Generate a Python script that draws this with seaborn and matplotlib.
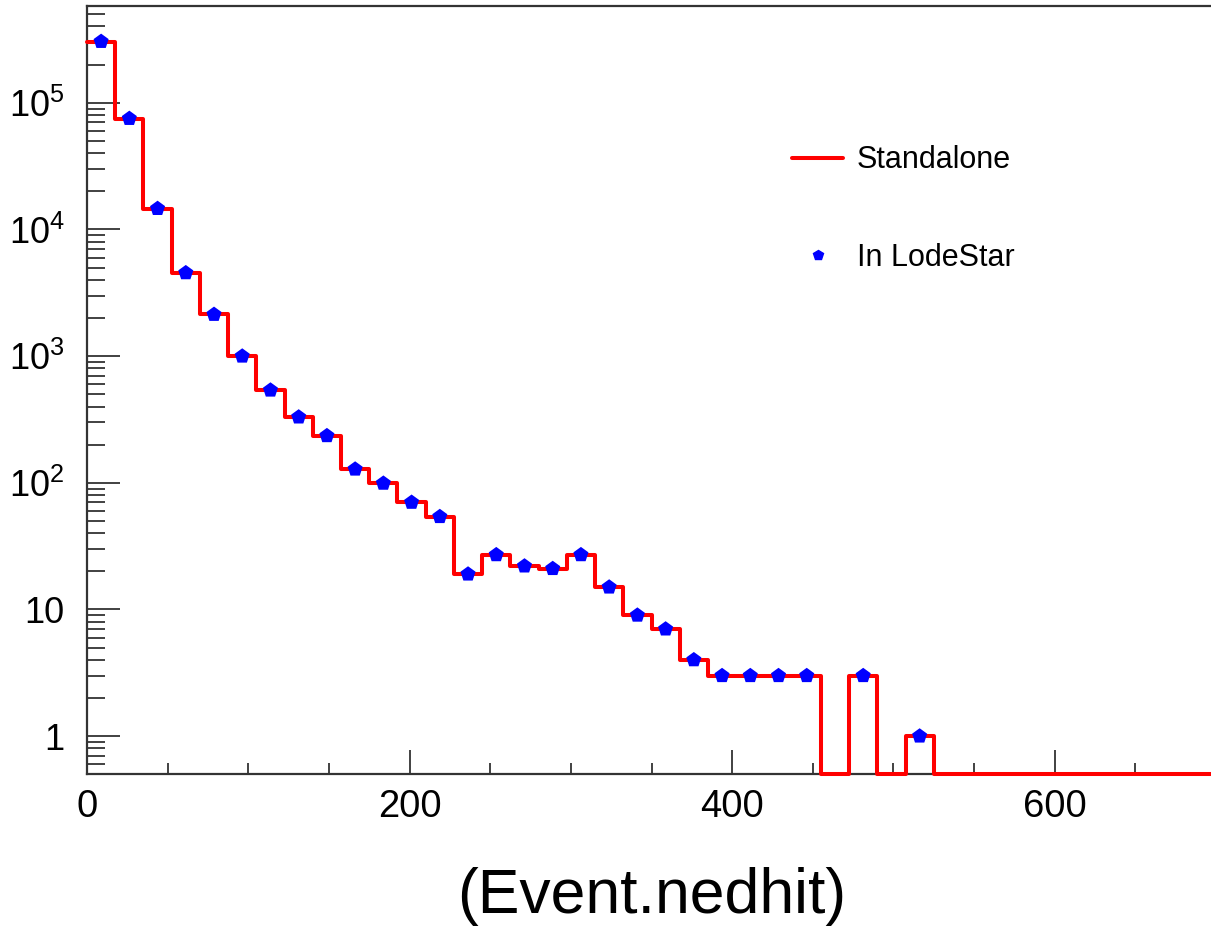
import numpy as np
import pandas as pd
import seaborn as sns
import matplotlib
matplotlib.use("Agg")
import matplotlib.pyplot as plt
from matplotlib.lines import Line2D
from matplotlib.ticker import MultipleLocator, LogLocator, FixedLocator, FuncFormatter, NullFormatter

# histogram of Event.nedhit, 40 bins of 17.5 from 0 to 700
bin_width = 17.5
x_range = (0, 700)
counts = [304000, 75000, 14600, 4540, 2130, 998, 538, 330, 235, 128,
          99, 70, 54, 19, 27, 22, 21, 27, 15, 9,
          7, 4, 3, 3, 3, 3, 0, 3, 0, 1,
          0, 0, 0, 0, 0, 0, 0, 0, 0, 0]
x_label = "(Event.nedhit)"
series_names = ["Standalone", "In LodeStar"]
y_major = [1, 10, 1e2, 1e3, 1e4, 1e5]

ymin, ymax = 0.5, 5.8e5

sns.set_style("white")
plt.rcParams["font.family"] = ["Liberation Sans", "DejaVu Sans"]
plt.rcParams["mathtext.fontset"] = "custom"
plt.rcParams["mathtext.rm"] = "Liberation Sans"
plt.rcParams["text.color"] = "black"
plt.rcParams["axes.labelcolor"] = "black"

counts = np.array(counts, dtype=float)
centers = x_range[0] + bin_width * (np.arange(len(counts)) + 0.5)
df = pd.DataFrame({"x": centers, "n": counts})
# empty bins are drawn on the frame bottom, like ROOT does
df["n_draw"] = df["n"].clip(lower=ymin)

fig = plt.figure(figsize=(12.11, 9.32), dpi=100)
ax = fig.add_axes([87 / 1211, 1 - 774.3 / 932, 1129 / 1211, 768.3 / 932])

sns.histplot(data=df, x="x", weights="n_draw", binwidth=bin_width, binrange=x_range,
             element="step", fill=False, color="red", linewidth=2.9, ax=ax,
             clip_on=False, zorder=3)
pts = df[df["n"] > 0]
sns.scatterplot(data=pts, x="x", y="n", marker="p", color="blue", s=130,
                edgecolor="none", ax=ax, zorder=4)

ax.set_yscale("log")
ax.set_xlim(*x_range)
ax.set_ylim(ymin, ymax)

ax.xaxis.set_major_locator(MultipleLocator(200))
ax.xaxis.set_minor_locator(MultipleLocator(50))
ax.yaxis.set_major_locator(FixedLocator(y_major))
ax.yaxis.set_minor_locator(LogLocator(base=10, subs=np.arange(2, 10), numticks=50))
ax.yaxis.set_minor_formatter(NullFormatter())


def ylab(v, pos):
    e = int(round(np.log10(v)))
    if e == 0:
        return "1"
    if e == 1:
        return "10"
    return r"$\mathregular{10^{%d}}$" % e


ax.yaxis.set_major_formatter(FuncFormatter(ylab))

ax.tick_params(bottom=True, left=True, top=False, right=False, which="both")
ax.tick_params(axis="x", which="major", direction="in", length=17, width=1.3,
               labelsize=27.5, pad=10.5, color="#333333", labelcolor="black")
ax.tick_params(axis="x", which="minor", direction="in", length=8, width=1.3, color="#333333")
ax.tick_params(axis="y", which="major", direction="in", length=24, width=1.3,
               labelsize=26, pad=16, color="#333333", labelcolor="black")
ax.tick_params(axis="y", which="minor", direction="in", length=13, width=1.3, color="#333333")

for s in ax.spines.values():
    s.set_color("#333333")
    s.set_linewidth(1.6)

ax.set_xlabel(x_label, fontsize=45, labelpad=30)
ax.set_ylabel("")

handles = [Line2D([], [], color="red", linewidth=2.9),
           Line2D([], [], color="blue", marker="p", linestyle="none", markersize=7)]
ax.legend(handles, series_names, loc="upper left", bbox_to_anchor=(771 / 1211, 1 - 124 / 932),
          bbox_transform=fig.transFigure, frameon=False, fontsize=22,
          handlelength=1.65, handletextpad=0.45, labelspacing=2.2, borderpad=0.2)

fig.savefig("out.png", dpi=100)
